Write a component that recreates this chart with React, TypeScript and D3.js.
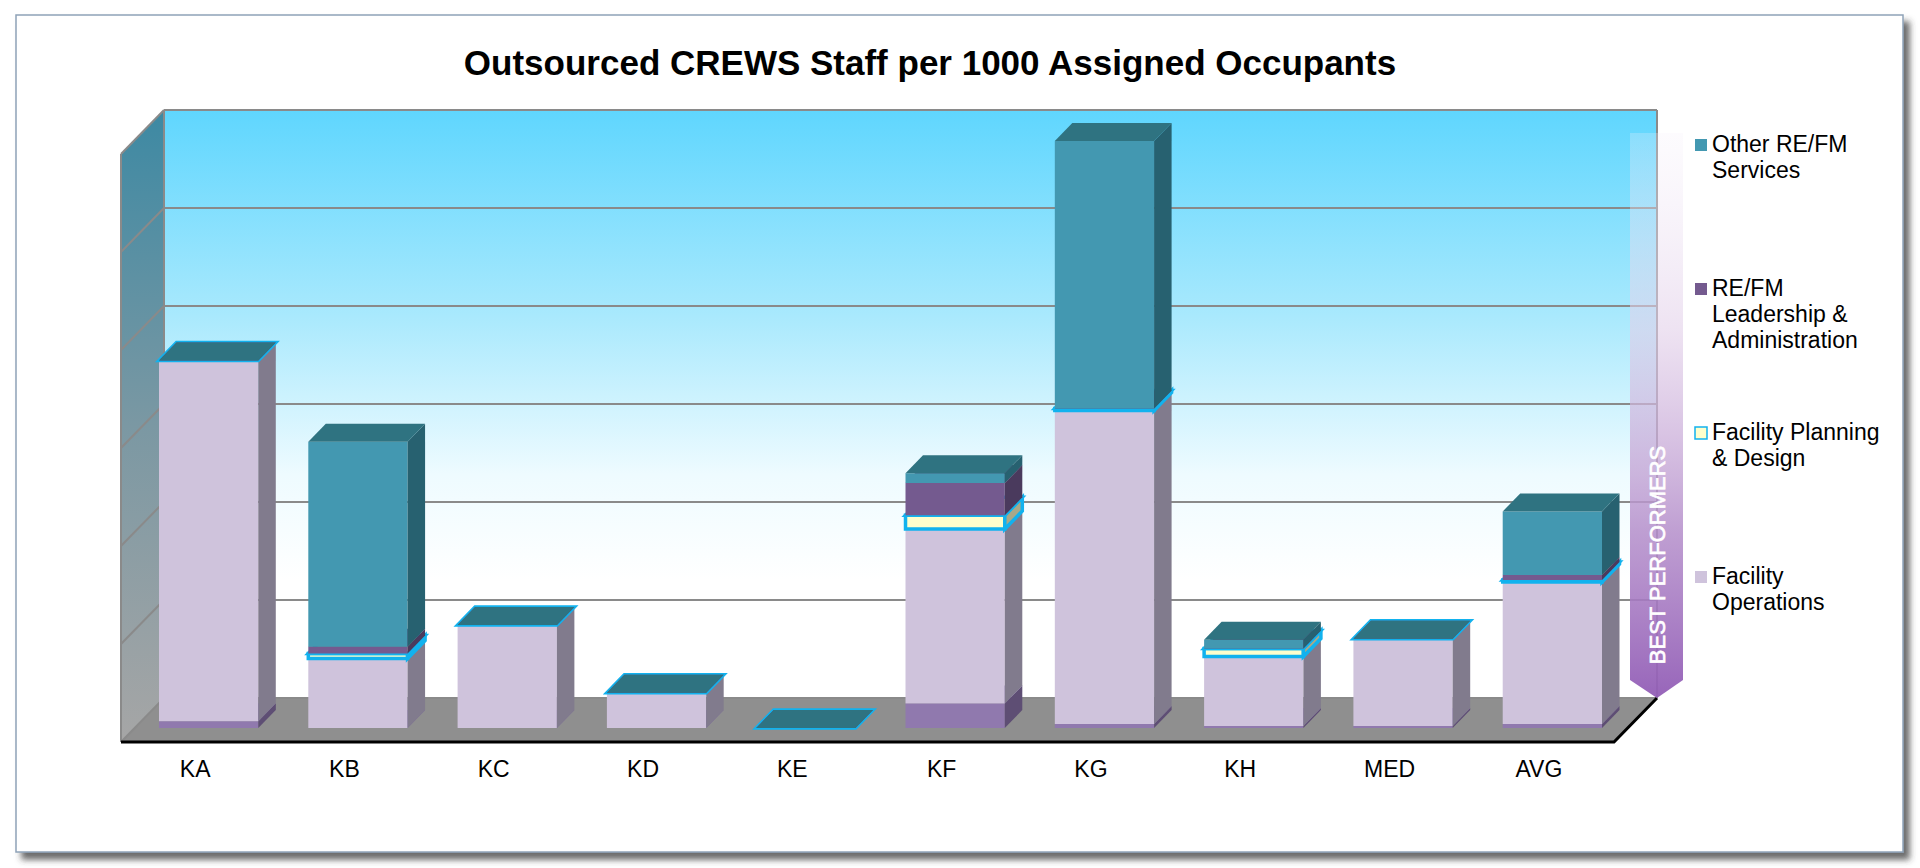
import * as d3 from 'd3';

// chart values (staff per 1000 occupants)
const categories = ['KA', 'KB', 'KC', 'KD', 'KE', 'KF', 'KG', 'KH', 'MED', 'AVG'];
const baseBand = [0.07, 0, 0, 0, 0, 0.25, 0.04, 0.02, 0.02, 0.04];
const facilityOps = [3.68, 0.71, 1.05, 0.36, 0, 1.78, 3.2, 0.71, 0.89, 1.45];
const planningDesign = [0, 0.05, 0, 0, 0, 0.14, 0.02, 0.08, 0, 0.02];
const leadershipAdmin = [0, 0.07, 0, 0, 0, 0.33, 0, 0, 0, 0.05];
const otherServices = [0, 2.09, 0, 0, 0, 0.1, 2.73, 0.09, 0, 0.65];
const yTicks = [0, 1, 2, 3, 4, 5, 6];

const legendItems = [
    { key: 'other', lines: ['Other RE/FM', 'Services'] },
    { key: 'lead', lines: ['RE/FM', 'Leadership &', 'Administration'] },
    { key: 'plan', lines: ['Facility Planning', '& Design'] },
    { key: 'ops', lines: ['Facility', 'Operations'] },
];

const keys = ['base', 'ops', 'plan', 'lead', 'other'];

const colors = {
    base: { front: '#9079ae', side: '#5e4e74', top: '#7a64a0' },
    ops: { front: '#cfc3dc', side: '#817b8d', top: '#a99db9' },
    plan: { front: '#ffffcc', side: '#a8a889', top: '#e2e2b4' },
    lead: { front: '#745a8f', side: '#4a3a5d', top: '#5e4878' },
    other: { front: '#4398b1', side: '#276170', top: '#2f7381' },
};

const FONT = '"Liberation Sans", Arial, sans-serif';
const W = 1920;
const H = 868;

// oblique depth offsets
const barDx = 17.5, barDy = 18;
const wallDx = 43, wallDy = 44;

const App = () => {
    const rows = categories.map((c, i) => ({
        cat: c,
        base: baseBand[i],
        ops: facilityOps[i],
        plan: planningDesign[i],
        lead: leadershipAdmin[i],
        other: otherServices[i],
    }));

    const series = d3.stack().keys(keys)(rows);

    const x = d3.scaleBand().domain(categories).range([159, 1602]).paddingInner(0.335).paddingOuter(0);
    const bw = x.bandwidth();
    // front face of the bars
    const y = d3.scaleLinear().domain([0, 6]).range([728, 140]);
    // back wall sits further back than the bars
    const yWall = (v) => y(v) - 30;

    const wallL = 164, wallR = 1657;
    const wallTop = yWall(6), wallBot = yWall(0);
    const floorFront = wallBot + wallDy;

    const segments = [];
    categories.forEach((c, ci) => {
        series.forEach((s) => {
            const d = s[ci];
            segments.push({ cat: c, key: s.key, y0: d[0], y1: d[1] });
        });
    });

    return (
        <svg width={W} height={H} style={{ position: 'absolute', left: 0, top: 0, background: '#fff' }}>
            <defs>
                <filter id="shadow" x="-5%" y="-5%" width="115%" height="115%">
                    <feDropShadow dx="6" dy="7" stdDeviation="3" floodColor="#3a3a3a" floodOpacity="0.75" />
                </filter>
                <linearGradient id="backWall" gradientUnits="userSpaceOnUse" x1="0" y1={wallTop} x2="0" y2={wallBot}>
                    <stop offset="0" stopColor="#5fd6fe" />
                    <stop offset="0.35" stopColor="#a9e9fd" />
                    <stop offset="0.62" stopColor="#eefbff" />
                    <stop offset="0.8" stopColor="#ffffff" />
                    <stop offset="1" stopColor="#ffffff" />
                </linearGradient>
                <linearGradient id="sideWall" gradientUnits="userSpaceOnUse" x1="0" y1={wallTop} x2="0" y2={floorFront}>
                    <stop offset="0" stopColor="#3d89a3" />
                    <stop offset="0.5" stopColor="#7b98a3" />
                    <stop offset="1" stopColor="#a6a6a6" />
                </linearGradient>
                <linearGradient id="arrow" gradientUnits="userSpaceOnUse" x1="0" y1="133" x2="0" y2="698">
                    <stop offset="0" stopColor="#f6f0fa" stopOpacity="0.25" />
                    <stop offset="0.35" stopColor="#e2cfe9" stopOpacity="0.6" />
                    <stop offset="0.7" stopColor="#b58fcb" stopOpacity="0.85" />
                    <stop offset="1" stopColor="#925db6" stopOpacity="0.95" />
                </linearGradient>
            </defs>

            {/* outer frame */}
            <rect x={16} y={15} width={1887} height={837} fill="#fff" stroke="#8fa3b8" strokeWidth={1.5} filter="url(#shadow)" />

            <text x={930} y={75} textAnchor="middle" fontFamily={FONT} fontWeight="bold" fontSize={35} fill="#000">
                Outsourced CREWS Staff per 1000 Assigned Occupants
            </text>

            {/* walls and floor */}
            <rect x={wallL} y={wallTop} width={wallR - wallL} height={wallBot - wallTop} fill="url(#backWall)" />
            <path
                d={`M${wallL - wallDx},${wallTop + wallDy} L${wallL},${wallTop} L${wallL},${wallBot} L${wallL - wallDx},${floorFront} Z`}
                fill="url(#sideWall)"
            />
            <path
                d={`M${wallL - wallDx},${floorFront} L${wallL},${wallBot} L${wallR},${wallBot} L${wallR - wallDx},${floorFront} Z`}
                fill="#8f8f8f"
            />
            {yTicks.map((t) => (
                <g key={t}>
                    <line x1={wallL} x2={wallR} y1={yWall(t)} y2={yWall(t)} stroke="#8a8a8a" strokeWidth={2} />
                    <line x1={wallL} x2={wallL - wallDx} y1={yWall(t)} y2={yWall(t) + wallDy} stroke="#8a8a8a" strokeWidth={2} />
                </g>
            ))}
            <line x1={wallL} x2={wallL} y1={wallTop} y2={wallBot} stroke="#8a8a8a" strokeWidth={2} />
            <line x1={wallR} x2={wallR} y1={wallTop} y2={wallBot} stroke="#8a8a8a" strokeWidth={2} />
            <line x1={wallL - wallDx} x2={wallL - wallDx} y1={wallTop + wallDy} y2={floorFront} stroke="#8a8a8a" strokeWidth={2} />
            <path
                d={`M${wallL - wallDx},${floorFront} L${wallR - wallDx},${floorFront} L${wallR},${wallBot}`}
                fill="none"
                stroke="#000"
                strokeWidth={3}
            />

            {/* bars */}
            {segments.map((s, i) => {
                const x0 = x(s.cat);
                const x1 = x0 + bw;
                const yb = y(s.y0);
                const yt = y(s.y1);
                const c = colors[s.key];
                const isPlan = s.key === 'plan';
                const stroke = isPlan ? '#12b2ee' : 'none';
                const sw = isPlan ? 3.5 : 0;
                const h = yb - yt;
                return (
                    <g key={i}>
                        {h > 0 && (
                            <>
                                <path d={`M${x0},${yt} H${x1} V${yb} H${x0} Z`} fill={c.front} stroke={stroke} strokeWidth={sw} />
                                <path
                                    d={`M${x1},${yb} L${x1 + barDx},${yb - barDy} L${x1 + barDx},${yt - barDy} L${x1},${yt} Z`}
                                    fill={c.side}
                                    stroke={stroke}
                                    strokeWidth={sw}
                                />
                            </>
                        )}
                        <path
                            d={`M${x0},${yt} L${x1},${yt} L${x1 + barDx},${yt - barDy} L${x0 + barDx},${yt - barDy} Z`}
                            fill={s.key === 'plan' && h === 0 ? colors.other.top : c.top}
                            stroke={stroke}
                            strokeWidth={sw}
                        />
                    </g>
                );
            })}

            {/* category labels sit at the floor's front edge */}
            {categories.map((c) => (
                <text key={c} x={x(c) + bw / 2 - 13.5} y={777} textAnchor="middle" fontFamily={FONT} fontSize={23} fill="#000">
                    {c}
                </text>
            ))}

            {/* best performers arrow */}
            <path d="M1630,133 L1683,133 L1683,680 L1657,698 L1630,680 Z" fill="url(#arrow)" />
            <text
                transform="translate(1665,555) rotate(-90)"
                textAnchor="middle"
                fontFamily={FONT}
                fontSize={22}
                fill="#fff"
                stroke="#fff"
                strokeWidth={0.7}
            >
                BEST PERFORMERS
            </text>

            {/* legend */}
            {legendItems.map((item, i) => {
                const top = 139 + i * 144;
                const c = colors[item.key];
                return (
                    <g key={item.key}>
                        <rect
                            x={1695}
                            y={top}
                            width={12}
                            height={12}
                            fill={c.front}
                            stroke={item.key === 'plan' ? '#12b2ee' : 'none'}
                            strokeWidth={1.5}
                        />
                        {item.lines.map((l, j) => (
                            <text key={j} x={1712} y={top + 13 + j * 26} fontFamily={FONT} fontSize={23} fill="#000">
                                {l}
                            </text>
                        ))}
                    </g>
                );
            })}
        </svg>
    );
};

export default App;
